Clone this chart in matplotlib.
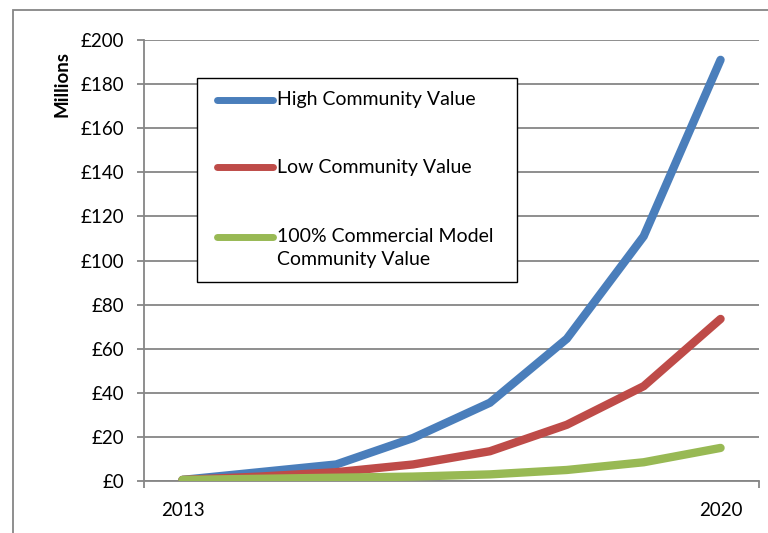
import matplotlib
matplotlib.use("Agg")
import matplotlib.pyplot as plt
from matplotlib.lines import Line2D
from matplotlib.patches import Rectangle

years = ["2013", "2014", "2015", "2016", "2017", "2018", "2019", "2020"]
high_value = [0.5, 4, 7.5, 19.5, 35.5, 64.5, 111, 191]
low_value = [0.5, 2, 4, 7.5, 13.5, 25.5, 43, 73.5]
commercial_value = [0.5, 1, 1.5, 2, 3, 5, 8.5, 15]

labels = ["High Community Value", "Low Community Value",
          "100% Commercial Model\nCommunity Value"]
colors = ["#4A7EBB", "#BE4B48", "#98B954"]
y_ticks = list(range(0, 201, 20))

plt.rcParams['font.family'] = ['Lato', 'DejaVu Sans']
W, H = 768, 533

fig = plt.figure(figsize=(W / 100, H / 100), dpi=100)
ax = fig.add_axes([144 / W, 1 - 481 / H, 615 / W, 441 / H])


def px(x, y):
    # pixel position (from top-left) -> figure fraction
    return x / W, 1 - y / H


grey = "#868686"
x = list(range(len(years)))
for vals, c in zip([high_value, low_value, commercial_value], colors):
    ax.plot(x, vals, color=c, lw=6, solid_capstyle="round",
            solid_joinstyle="miter", zorder=3)

ax.set_xlim(-0.5, len(years) - 0.5)
ax.set_ylim(0, 200)
ax.set_yticks(y_ticks)
ax.set_yticklabels(["£%d" % v for v in y_ticks])
ax.grid(axis="y", color=grey, lw=1.3)
ax.set_axisbelow(True)

ax.set_xticks(x)
ax.set_xticklabels([years[0]] + [""] * (len(years) - 2) + [years[-1]])
ax.set_xticks([-0.5, len(years) - 0.5], minor=True)
ax.tick_params(axis="x", which="major", length=0, pad=15, labelsize=13.5)
ax.tick_params(axis="x", which="minor", length=5, width=1.3, color=grey)
ax.tick_params(axis="y", length=5, width=1.3, color=grey, pad=9,
               labelsize=13.5)

for side in ["top", "right"]:
    ax.spines[side].set_visible(False)
for side in ["left", "bottom"]:
    ax.spines[side].set_color(grey)
    ax.spines[side].set_linewidth(1.3)

ax.set_ylabel("Millions", fontsize=13.5, fontweight="bold", labelpad=0)
ax.yaxis.set_label_coords(-0.12, 0.9)

# outer chart frame
fig.add_artist(Rectangle(px(13, 540), 1, (540 - 10) / H,
                         transform=fig.transFigure, fill=False,
                         edgecolor=grey, lw=1.3, clip_on=False))

# legend box
lx0, ly0 = px(197, 282)
lx1, ly1 = px(517, 78)
fig.add_artist(Rectangle((lx0, ly0), lx1 - lx0, ly1 - ly0,
                         transform=fig.transFigure, facecolor="white",
                         edgecolor="black", lw=1.0, zorder=5))
for lab, c, yy in zip(labels, colors, [100, 167, 237]):
    (a, b), (a2, _) = px(217, yy), px(273, yy)
    fig.add_artist(Line2D([a, a2], [b, b], transform=fig.transFigure,
                          color=c, lw=5, solid_capstyle="round", zorder=6))
    fig.text(px(277, 0)[0], b + 8.5 / H, lab, fontsize=14, va="top",
             ha="left", zorder=6, linespacing=1.4,
             transform=fig.transFigure)

fig.savefig("out.png", dpi=100)
